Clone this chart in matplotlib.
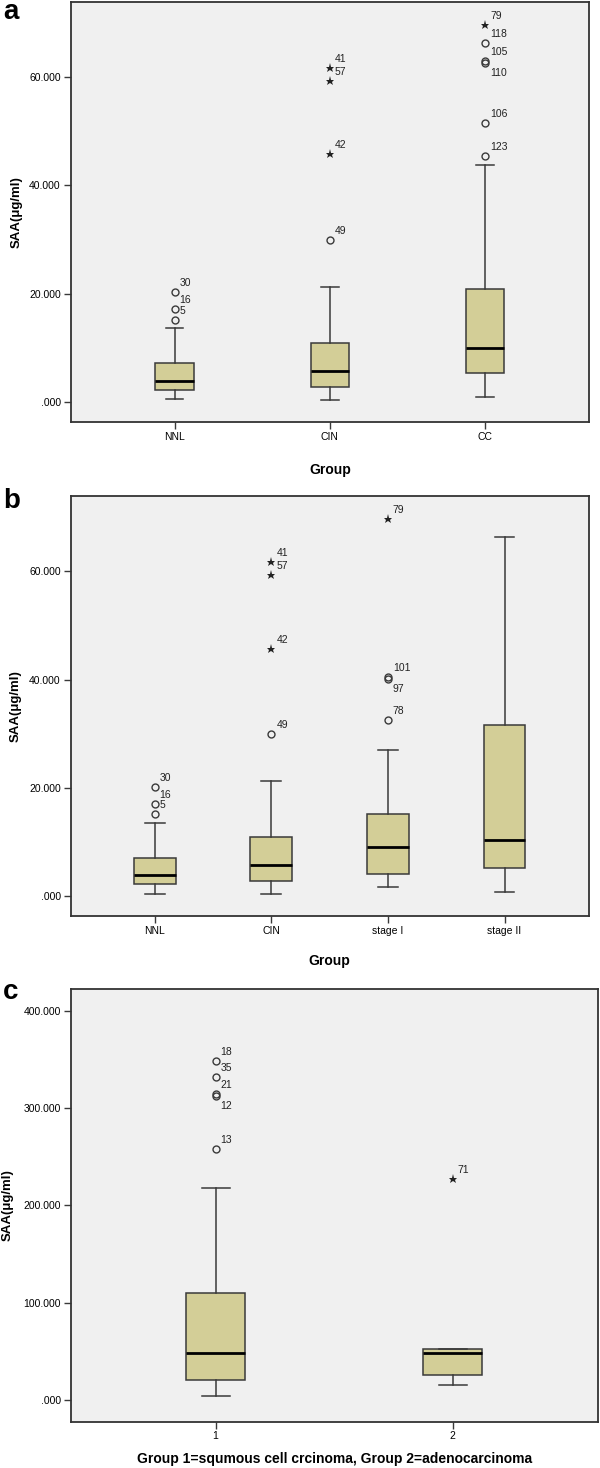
import matplotlib
matplotlib.use('Agg')
import matplotlib.pyplot as plt
from matplotlib.ticker import FuncFormatter

plt.rcParams['font.family'] = ['Liberation Sans', 'DejaVu Sans']

# ---- panel a : NNL / CIN / CC
a_groups = ['NNL', 'CIN', 'CC']
a_q1 = [2.2, 2.9, 5.3]
a_med = [3.9, 5.8, 10.0]
a_q3 = [7.2, 10.95, 20.95]
a_lo = [0.55, 0.5, 1.0]
a_hi = [13.65, 21.3, 43.8]
a_out_grp = [1, 1, 1, 2, 2, 2, 2, 3, 3, 3, 3, 3, 3]
a_out_val = [20.3, 17.2, 15.2, 61.7, 59.3, 45.7, 30.0, 69.6, 66.3, 62.9, 62.6, 51.5, 45.5]
a_out_id = [30, 16, 5, 41, 57, 42, 49, 79, 118, 105, 110, 106, 123]
a_out_kind = ['o', 'o', 'o', '*', '*', '*', 'o', '*', 'o', 'o', 'o', 'o', 'o']

# ---- panel b : NNL / CIN / stage I / stage II
b_groups = ['NNL', 'CIN', 'stage I', 'stage II']
b_q1 = [2.2, 2.9, 4.2, 5.2]
b_med = [3.85, 5.75, 9.1, 10.4]
b_q3 = [7.1, 10.9, 15.1, 31.7]
b_lo = [0.5, 0.5, 1.75, 0.85]
b_hi = [13.6, 21.2, 27.0, 66.3]
b_out_grp = [1, 1, 1, 2, 2, 2, 2, 3, 3, 3, 3]
b_out_val = [20.25, 17.1, 15.1, 61.7, 59.3, 45.7, 30.0, 69.7, 40.5, 40.2, 32.6]
b_out_id = [30, 16, 5, 41, 57, 42, 49, 79, 101, 97, 78]
b_out_kind = ['o', 'o', 'o', '*', '*', '*', 'o', '*', 'o', 'o', 'o']

# ---- panel c : squamous cell vs adenocarcinoma
c_groups = ['1', '2']
c_q1 = [20.9, 25.7]
c_med = [48.0, 48.0]
c_q3 = [110.0, 52.1]
c_lo = [4.1, 15.1]
c_hi = [218.3, 52.1]
c_out_grp = [1, 1, 1, 1, 1, 2]
c_out_val = [348.6, 331.4, 314.0, 312.5, 257.8, 227.0]
c_out_id = [18, 35, 21, 12, 13, 71]
c_out_kind = ['o', 'o', 'o', 'o', 'o', '*']

BOX_COLOR = '#D3CE97'
LINE_COLOR = '#3a3a3a'
BG = '#F0F0F0'
LABEL_BELOW = {110, 97, 12}


def fmt(v, pos):
    s = '%.3f' % v
    if s.startswith('0'):
        s = s[1:]
    return s


def draw_panel(ax, groups, q1, med, q3, lo, hi, out_grp, out_val, out_id, out_kind,
               xlim, ylim, yticks, boxw, xlabel, xlab_y, ylab_x):
    pos = list(range(1, len(groups) + 1))
    stats = []
    for i in range(len(groups)):
        stats.append(dict(q1=q1[i], med=med[i], q3=q3[i], whislo=lo[i], whishi=hi[i], fliers=[]))
    ax.bxp(stats, positions=pos, widths=boxw, capwidths=boxw * 0.47, patch_artist=True,
           showfliers=False,
           boxprops=dict(facecolor=BOX_COLOR, edgecolor=LINE_COLOR, linewidth=1.1),
           whiskerprops=dict(color=LINE_COLOR, linewidth=1.1),
           capprops=dict(color=LINE_COLOR, linewidth=1.1),
           medianprops=dict(color='black', linewidth=2.0))
    for g, v, i, k in zip(out_grp, out_val, out_id, out_kind):
        if k == 'o':
            ax.plot(g, v, 'o', mfc='none', mec=LINE_COLOR, ms=5, mew=1.0)
        else:
            ax.plot(g, v, '*', color='#222222', ms=6.5, mew=0)
        dy = -10 if i in LABEL_BELOW else 9
        ax.annotate(str(i), (g, v), xytext=(5, dy), textcoords='offset pixels',
                    fontsize=7.5, ha='left', va='center', color='#222222')
    ax.set_facecolor(BG)
    ax.set_xlim(*xlim)
    ax.set_ylim(*ylim)
    ax.set_xticks(pos)
    ax.set_xticklabels(groups, fontsize=7.5)
    ax.set_yticks(yticks)
    ax.yaxis.set_major_formatter(FuncFormatter(fmt))
    ax.tick_params(axis='both', labelsize=7.5, length=5, width=1, color=LINE_COLOR, pad=2)
    for sp in ax.spines.values():
        sp.set_color('#333333')
        sp.set_linewidth(1.3)
    ax.set_xlabel(xlabel, fontsize=10, fontweight='bold')
    ax.xaxis.set_label_coords(0.5, xlab_y)
    ax.set_ylabel('SAA(μg/ml)', fontsize=9.5, fontweight='bold')
    ax.yaxis.set_label_coords(ylab_x, 0.5)


fig = plt.figure(figsize=(6, 14.68), dpi=100)
H = 1468.0
W = 600.0

ax_a = fig.add_axes([70.5 / W, 1 - 422.3 / H, 518.5 / W, 420.8 / H])
draw_panel(ax_a, a_groups, a_q1, a_med, a_q3, a_lo, a_hi,
           a_out_grp, a_out_val, a_out_id, a_out_kind,
           (0.33, 3.67), (-3.7, 73.9), [0, 20, 40, 60], 0.245, 'Group', -0.097, -0.092)

ax_b = fig.add_axes([70.5 / W, 1 - 916.3 / H, 518.2 / W, 420.3 / H])
draw_panel(ax_b, b_groups, b_q1, b_med, b_q3, b_lo, b_hi,
           b_out_grp, b_out_val, b_out_id, b_out_kind,
           (0.278, 4.722), (-3.7, 73.9), [0, 20, 40, 60], 0.36, 'Group', -0.09, -0.094)

ax_c = fig.add_axes([70.5 / W, 1 - 1421.7 / H, 527.2 / W, 432.4 / H])
draw_panel(ax_c, c_groups, c_q1, c_med, c_q3, c_lo, c_hi,
           c_out_grp, c_out_val, c_out_id, c_out_kind,
           (0.388, 2.612), (-22.3, 422), [0, 100, 200, 300, 400], 0.25,
           'Group 1=squmous cell crcinoma, Group 2=adenocarcinoma', -0.07, -0.108)

fig.text(3 / W, 1 - 19 / H, 'a', fontsize=20, fontweight='bold', va='baseline')
fig.text(3 / W, 1 - 508 / H, 'b', fontsize=20, fontweight='bold', va='baseline')
fig.text(3 / W, 1 - 999 / H, 'c', fontsize=20, fontweight='bold', va='baseline')

fig.savefig('out.png', dpi=100)
